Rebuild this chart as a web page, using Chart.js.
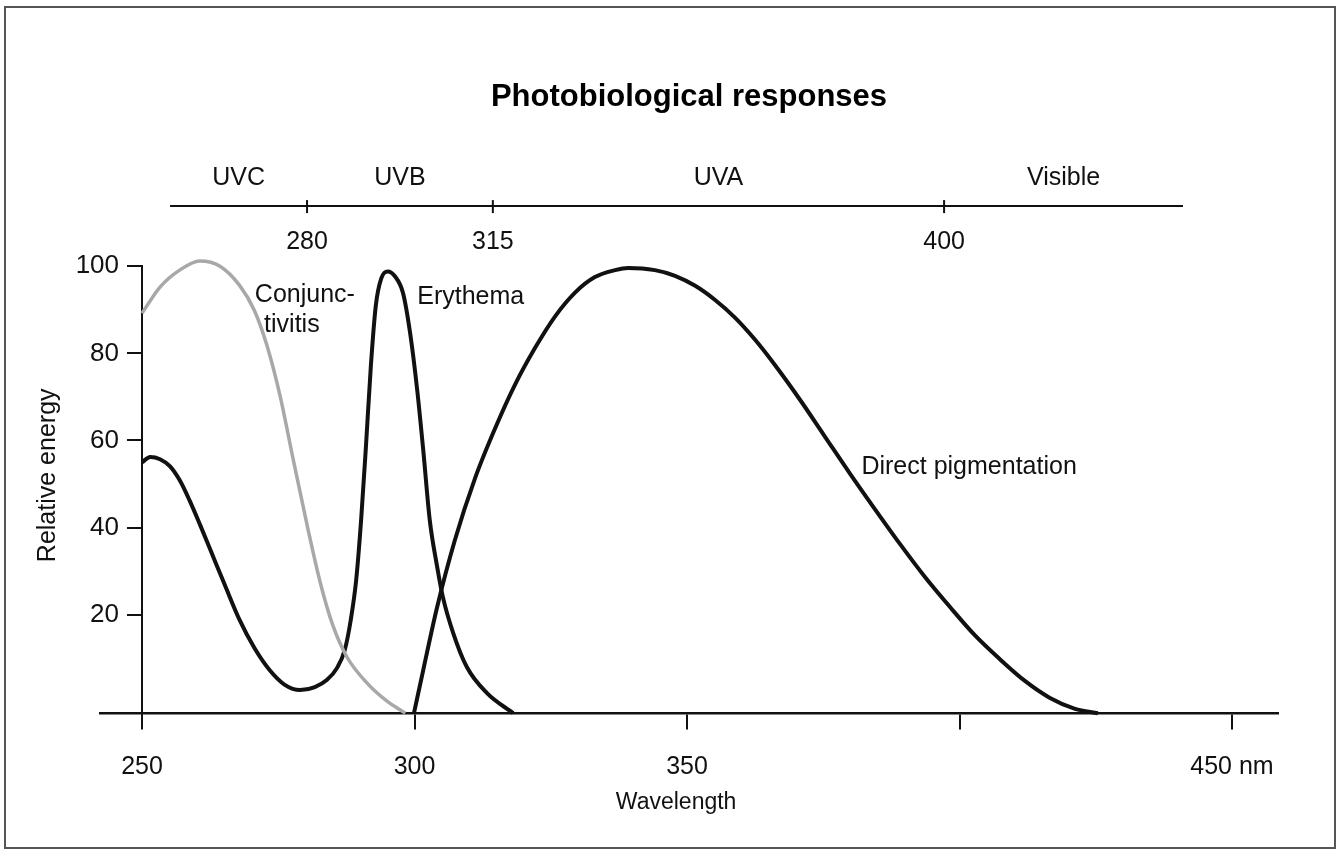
<!DOCTYPE html>
<html><head><meta charset="utf-8">
<script src="https://cdn.jsdelivr.net/npm/chart.js@4.4.1/dist/chart.umd.min.js"></script>
<style>html,body{margin:0;padding:0;background:#fff;} #wrap{width:1341px;height:853px;position:relative;}</style>
</head><body><div id="wrap"><canvas id="c"></canvas></div>
<script>
// ---------- text ----------
const chartTitle = 'Photobiological responses';
const xAxisTitle = 'Wavelength';
const yAxisTitle = 'Relative energy';

// ---------- axis ticks ----------
const xTickValues = [250, 300, 350, 400, 450];
const xTickLabels = ['250', '300', '350', '', '450 nm'];
const yTickValues = [20, 40, 60, 80, 100];

// ---------- series (wavelength nm, relative energy) ----------
const conjWavelength = [250.0, 253.3, 256.9, 260.6, 264.3, 267.9, 270.6, 272.9, 275.3, 277.7, 280.3, 282.7, 285.0, 287.6, 291.3, 294.9, 298.3];
const conjEnergy     = [89.2, 95.2, 99.1, 101.2, 100.0, 95.6, 89.9, 81.9, 70.4, 55.9, 40.5, 27.4, 17.6, 10.3, 4.3, 0.2, -2.6];

const eryWavelength = [250.0, 251.5, 253.3, 255.1, 256.9, 258.7, 260.6, 262.8, 265.2, 267.9, 270.6, 273.4, 276.2, 279.0, 281.7, 283.9, 285.8, 287.2, 288.3, 289.3, 290.2, 291.1, 292.0, 292.9, 293.9, 295.1, 296.4, 297.9, 299.2, 300.5, 301.6, 302.8, 304.1, 305.2, 307.1, 309.6, 313.3, 318.1];
const eryEnergy     = [55.0, 56.2, 55.7, 54.1, 50.9, 46.3, 40.8, 34.1, 26.8, 18.8, 12.4, 7.3, 3.9, 2.7, 3.4, 5.0, 7.8, 11.9, 18.8, 28.0, 41.7, 58.9, 77.3, 91.0, 97.2, 98.8, 97.7, 93.8, 84.6, 71.5, 57.8, 41.7, 31.4, 24.1, 15.8, 8.0, 2.0, -2.6];

const pigWavelength = [299.9, 301.6, 304.1, 307.4, 311.1, 314.8, 318.4, 322.1, 325.8, 329.5, 333.1, 336.8, 339.2, 344.1, 347.8, 351.5, 355.1, 358.8, 362.5, 366.2, 370.7, 375.3, 379.9, 384.5, 389.1, 393.7, 398.3, 402.8, 407.4, 412.0, 416.6, 421.2, 425.4];
const pigEnergy     = [-2.6, 7.3, 21.5, 37.1, 51.3, 62.8, 72.7, 81.2, 88.5, 94.0, 97.5, 99.1, 99.6, 99.1, 97.8, 95.5, 92.3, 88.2, 83.1, 77.2, 69.4, 60.9, 52.4, 44.2, 36.2, 28.6, 21.7, 15.3, 9.8, 4.8, 0.9, -1.6, -2.6];

// ---------- spectral band ruler ----------
const bandEdges = [280, 315, 400];
const bandEdgeLabels = ['280', '315', '400'];
const bandNames = ['UVC', 'UVB', 'UVA', 'Visible'];
const bandRulerRange = [254.2, 445.0];

// ---------- curve labels (anchors in data units) ----------
const curveLabels = [
  { text: 'Conjunc-', x: 270.7, y: 93.3 },
  { text: 'tivitis', x: 272.4, y: 86.5 },
  { text: 'Erythema', x: 300.5, y: 92.9 },
  { text: 'Direct pigmentation', x: 382.0, y: 53.9 }
];

const FONT = "'Liberation Sans', Arial, Helvetica, sans-serif";
const INK = '#111';

const toPts = (xs, ys) => xs.map((x, i) => ({ x: x, y: ys[i] }));

const decor = {
  id: 'decor',
  beforeDraw(chart) {
    const ctx = chart.ctx;
    ctx.save();
    ctx.fillStyle = '#fff';
    ctx.fillRect(0, 0, chart.width, chart.height);
    ctx.strokeStyle = '#555';
    ctx.lineWidth = 2;
    ctx.strokeRect(5, 7, chart.width - 11, chart.height - 12);
    ctx.restore();
  },
  afterDraw(chart) {
    const ctx = chart.ctx;
    const xs = chart.scales.x, ys = chart.scales.y, xb = chart.scales.xBand;
    ctx.save();
    ctx.fillStyle = INK;
    ctx.strokeStyle = INK;
    // y tick labels (left of the tick marks)
    ctx.font = '26px ' + FONT;
    ctx.textAlign = 'right';
    ctx.textBaseline = 'middle';
    const axisX = xs.getPixelForValue(250);
    yTickValues.forEach(v => ctx.fillText(String(v), axisX - 23, ys.getPixelForValue(v)));
    // band ruler
    ctx.font = '25px ' + FONT;
    const rY = ys.getPixelForValue(113.8);
    ctx.lineWidth = 2;
    ctx.beginPath();
    ctx.moveTo(xb.getPixelForValue(bandRulerRange[0]), rY);
    ctx.lineTo(xb.getPixelForValue(bandRulerRange[1]), rY);
    ctx.stroke();
    ctx.textAlign = 'center';
    bandEdges.forEach((e, i) => {
      const px = xb.getPixelForValue(e);
      ctx.beginPath();
      ctx.moveTo(px, rY - 6);
      ctx.lineTo(px, rY + 7);
      ctx.stroke();
      ctx.fillText(bandEdgeLabels[i], px, rY + 36);
    });
    const bounds = [bandRulerRange[0]].concat(bandEdges).concat([bandRulerRange[1]]);
    bandNames.forEach((n, i) => {
      const mid = (bounds[i] + bounds[i + 1]) / 2;
      ctx.fillText(n, xb.getPixelForValue(mid), rY - 28);
    });
    // curve labels
    ctx.textAlign = 'left';
    curveLabels.forEach(l => {
      ctx.fillText(l.text, xs.getPixelForValue(l.x), ys.getPixelForValue(l.y));
    });
    // axis titles
    ctx.textAlign = 'center';
    ctx.font = '23px ' + FONT;
    ctx.fillText(xAxisTitle, xs.getPixelForValue(348), ys.getPixelForValue(-2.5) + 90);
    ctx.save();
    ctx.translate(chart.chartArea.left - 52, ys.getPixelForValue(52));
    ctx.rotate(-Math.PI / 2);
    ctx.font = '25px ' + FONT;
    ctx.fillText(yAxisTitle, 0, 0);
    ctx.restore();
    ctx.restore();
  }
};

new Chart(document.getElementById('c'), {
  type: 'line',
  data: {
    datasets: [
      { label: 'Conjunctivitis', data: toPts(conjWavelength, conjEnergy), borderColor: '#a8a8a8', borderWidth: 3.5 },
      { label: 'Erythema', data: toPts(eryWavelength, eryEnergy), borderColor: INK, borderWidth: 4 },
      { label: 'Direct pigmentation', data: toPts(pigWavelength, pigEnergy), borderColor: INK, borderWidth: 4 }
    ]
  },
  options: {
    responsive: true,
    maintainAspectRatio: false,
    animation: false,
    layout: { padding: { left: 100, right: 63, top: 0, bottom: 125 } },
    datasets: { line: { pointRadius: 0, cubicInterpolationMode: 'monotone', clip: false, fill: false } },
    plugins: {
      legend: { display: false },
      tooltip: { enabled: false },
      title: {
        display: true, text: chartTitle, color: '#000',
        font: { family: FONT, size: 31, weight: 'bold' },
        padding: { top: 79, bottom: 150 }
      }
    },
    scales: {
      x: {
        type: 'linear', min: 242.29, max: 458.44,
        position: { y: -2.5 },
        afterBuildTicks: s => { s.ticks = xTickValues.map(v => ({ value: v })); },
        ticks: {
          color: INK, font: { family: FONT, size: 25 }, padding: 24, maxRotation: 0, autoSkip: false,
          callback: v => xTickLabels[xTickValues.indexOf(v)]
        },
        grid: { drawOnChartArea: false, drawTicks: true, tickLength: 15, color: INK, lineWidth: 2 },
        border: { display: true, color: INK, width: 2.5 }
      },
      xBand: {
        type: 'linear', min: 241.0, max: 462.9, display: false, position: 'top'
      },
      y: {
        type: 'linear', min: -6, max: 100,
        position: { x: 250 },
        afterBuildTicks: s => { s.ticks = yTickValues.map(v => ({ value: v })); },
        ticks: { display: false },
        grid: { drawOnChartArea: false, drawTicks: true, tickLength: 14, color: INK, lineWidth: 2 },
        border: { display: true, color: INK, width: 2 }
      }
    }
  },
  plugins: [decor]
});
</script>
</body></html>
